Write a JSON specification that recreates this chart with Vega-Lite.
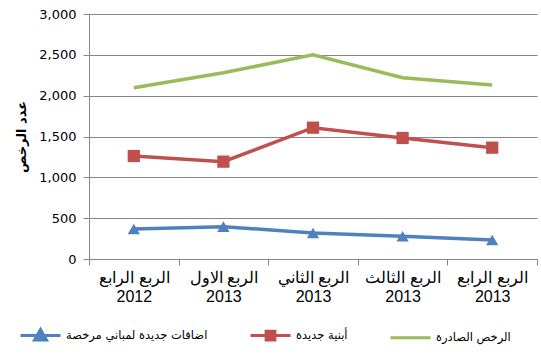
{
  "$schema": "https://vega.github.io/schema/vega-lite/v6.json",
  "width": 448,
  "height": 245,
  "autosize": {"type": "none"},
  "padding": {"left": 89, "top": 14, "right": 4, "bottom": 98},
  "background": "white",
  "config": {
    "view": {"stroke": null},
    "font": "Liberation Sans"
  },
  "data": {
    "values": [
      {"q": "الربع الرابع|2012", "s": "الرخص الصادرة", "v": 2098},
      {"q": "الربع الاول|2013", "s": "الرخص الصادرة", "v": 2281},
      {"q": "الربع الثاني|2013", "s": "الرخص الصادرة", "v": 2500},
      {"q": "الربع الثالث|2013", "s": "الرخص الصادرة", "v": 2220},
      {"q": "الربع الرابع|2013", "s": "الرخص الصادرة", "v": 2131},
      {"q": "الربع الرابع|2012", "s": "أبنية جديدة", "v": 1261},
      {"q": "الربع الاول|2013", "s": "أبنية جديدة", "v": 1192},
      {"q": "الربع الثاني|2013", "s": "أبنية جديدة", "v": 1608},
      {"q": "الربع الثالث|2013", "s": "أبنية جديدة", "v": 1482},
      {"q": "الربع الرابع|2013", "s": "أبنية جديدة", "v": 1363},
      {"q": "الربع الرابع|2012", "s": "اضافات جديدة لمباني مرخصة", "v": 367},
      {"q": "الربع الاول|2013", "s": "اضافات جديدة لمباني مرخصة", "v": 396},
      {"q": "الربع الثاني|2013", "s": "اضافات جديدة لمباني مرخصة", "v": 318},
      {"q": "الربع الثالث|2013", "s": "اضافات جديدة لمباني مرخصة", "v": 278},
      {"q": "الربع الرابع|2013", "s": "اضافات جديدة لمباني مرخصة", "v": 233}
    ]
  },
  "encoding": {
    "x": {
      "field": "q",
      "type": "nominal",
      "sort": null,
      "bandPosition": 0.5,
      "scale": {"type": "band", "paddingInner": 0, "paddingOuter": 0},
      "axis": {
        "title": null,
        "labelAngle": 0,
        "tickBand": "extent",
        "labelExpr": "split(datum.label, '|')",
        "labelFont": "Liberation Sans",
        "labelFontSize": 16,
        "labelLineHeight": 19,
        "labelColor": "black",
        "labelPadding": 4,
        "tickSize": 6,
        "tickColor": "#868686",
        "domainColor": "#868686",
        "grid": false
      }
    },
    "y": {
      "field": "v",
      "type": "quantitative",
      "scale": {"domain": [0, 3000], "nice": false},
      "axis": {
        "values": [0, 500, 1000, 1500, 2000, 2500, 3000],
        "format": ",.0f",
        "title": "عدد الرخص",
        "titleFont": "DejaVu Sans",
        "titleFontSize": 13,
        "titleFontWeight": "bold",
        "titleColor": "black",
        "titlePadding": 10,
        "labelFont": "DejaVu Sans",
        "labelFontSize": 13,
        "labelColor": "black",
        "labelPadding": 7,
        "tickSize": 6,
        "tickColor": "#868686",
        "domainColor": "#868686",
        "gridColor": "#868686",
        "gridOpacity": 1
      }
    },
    "color": {
      "field": "s",
      "type": "nominal",
      "scale": {
        "domain": ["اضافات جديدة لمباني مرخصة", "أبنية جديدة", "الرخص الصادرة"],
        "range": ["#4F81BD", "#C0504D", "#9BBB59"]
      },
      "legend": {
        "title": null,
        "orient": "none",
        "direction": "horizontal",
        "legendX": -70,
        "legendY": 300,
        "padding": 0,
        "symbolSize": 1600,
        "symbolStrokeWidth": 3,
        "labelFont": "DejaVu Sans",
        "labelFontSize": 11.5,
        "labelColor": "black",
        "labelOffset": 4,
        "columnPadding": 36,
        "labelLimit": 300,
        "encode": {
          "symbols": {
            "update": {
              "shape": {"signal": "datum.value === 'أبنية جديدة' ? 'M-1,0H1M-0.22,-0.22H0.22V0.22H-0.22Z' : (datum.value === 'الرخص الصادرة' ? 'M-1,0H1' : 'M-1,0H1M0,-0.3L0.3,0.22H-0.3Z')"},
              "fill": {"scale": "color", "field": "value"},
              "stroke": {"scale": "color", "field": "value"},
              "strokeWidth": {"value": 3},
              "opacity": {"value": 1},
              "fillOpacity": {"value": 1}
            }
          }
        }
      }
    }
  },
  "layer": [
    {
      "mark": {"type": "line", "strokeWidth": 3.5}
    },
    {
      "transform": [{"filter": "datum.s !== 'الرخص الصادرة'"}],
      "mark": {"type": "point", "filled": true, "opacity": 1, "size": 150},
      "encoding": {
        "shape": {
          "field": "s",
          "type": "nominal",
          "scale": {
            "domain": ["اضافات جديدة لمباني مرخصة", "أبنية جديدة"],
            "range": ["triangle-up", "square"]
          },
          "legend": null
        }
      }
    }
  ]
}
